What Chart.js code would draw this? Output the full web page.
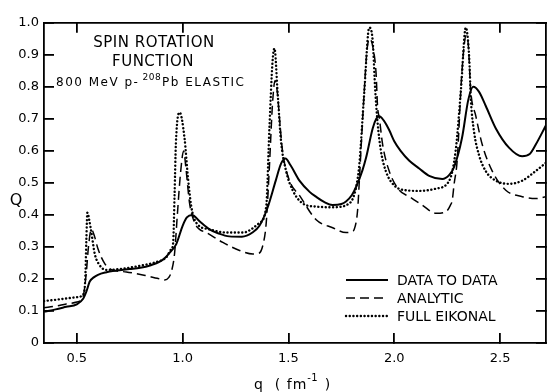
<!DOCTYPE html>
<html><head><meta charset="utf-8">
<script src="https://cdn.jsdelivr.net/npm/chart.js@4.4.1/dist/chart.umd.min.js"></script>
<style>html,body{margin:0;padding:0;background:#fff;}canvas{display:block;}</style>
</head><body>
<canvas id="c" width="547" height="392"></canvas>
<script>
// ---- data ----
const seriesLabels = ['DATA TO DATA', 'ANALYTIC', 'FULL EIKONAL'];
const titleLines = ['SPIN ROTATION', 'FUNCTION'];
const subtitleParts = ['800 MeV p-', '208', 'Pb ELASTIC'];
const xTitleParts = ['q  ( fm', '-1', ' )'];
const yTitle = 'Q';
const xTickValues = [0.5, 1.0, 1.5, 2.0, 2.5];
const yTickValues = [0, 0.1, 0.2, 0.3, 0.4, 0.5, 0.6, 0.7, 0.8, 0.9, 1.0];

const dataToDataQ = [0.345,0.40,0.45,0.50,0.53,0.545,0.561,0.58,0.60,0.64,0.67,0.75,0.80,0.85,0.89,0.92,0.94,0.97,1.00,1.02,1.045,1.08,1.127,1.17,1.22,1.28,1.33,1.363,1.40,1.44,1.465,1.486,1.51,1.552,1.60,1.63,1.67,1.708,1.75,1.772,1.80,1.82,1.85,1.867,1.898,1.915,1.929,1.95,1.976,2.0,2.03,2.07,2.118,2.165,2.227,2.26,2.283,2.32,2.35,2.373,2.40,2.432,2.48,2.542,2.604,2.64,2.668,2.717];
const dataToDataVal = [0.098,0.105,0.113,0.121,0.138,0.16,0.192,0.205,0.213,0.221,0.225,0.231,0.235,0.243,0.253,0.268,0.283,0.309,0.366,0.392,0.40,0.38,0.355,0.342,0.333,0.332,0.345,0.366,0.42,0.507,0.56,0.576,0.555,0.507,0.472,0.457,0.440,0.431,0.434,0.442,0.462,0.488,0.54,0.579,0.67,0.70,0.708,0.695,0.665,0.63,0.60,0.57,0.545,0.522,0.512,0.525,0.55,0.64,0.76,0.80,0.785,0.741,0.67,0.61,0.583,0.59,0.619,0.68];

const analyticQ = [0.345,0.40,0.45,0.50,0.53,0.545,0.555,0.569,0.585,0.60,0.632,0.664,0.70,0.734,0.829,0.88,0.915,0.935,0.947,0.962,0.975,0.99,1.005,1.015,1.033,1.057,1.08,1.112,1.19,1.269,1.332,1.36,1.379,1.395,1.41,1.425,1.437,1.448,1.458,1.472,1.505,1.552,1.631,1.709,1.772,1.80,1.811,1.827,1.835,1.855,1.872,1.885,1.90,1.914,1.921,1.93,1.945,1.976,2.024,2.071,2.132,2.197,2.244,2.265,2.274,2.283,2.297,2.32,2.34,2.35,2.361,2.385,2.416,2.463,2.527,2.605,2.668,2.717];
const analyticVal = [0.11,0.115,0.122,0.128,0.146,0.22,0.30,0.355,0.33,0.294,0.248,0.229,0.224,0.222,0.21,0.202,0.197,0.205,0.223,0.28,0.40,0.53,0.60,0.55,0.436,0.375,0.355,0.345,0.314,0.289,0.278,0.28,0.305,0.375,0.55,0.75,0.82,0.78,0.70,0.60,0.507,0.461,0.385,0.36,0.345,0.348,0.355,0.416,0.507,0.75,0.92,0.95,0.92,0.843,0.74,0.70,0.62,0.537,0.477,0.457,0.431,0.405,0.41,0.43,0.446,0.497,0.568,0.85,0.96,0.93,0.79,0.71,0.619,0.537,0.477,0.457,0.451,0.457];

const eikonalQ = [0.345,0.40,0.45,0.50,0.53,0.54,0.545,0.55,0.56,0.569,0.585,0.608,0.64,0.703,0.797,0.876,0.923,0.947,0.955,0.962,0.968,0.986,1.009,1.025,1.041,1.065,1.127,1.206,1.284,1.363,1.395,1.41,1.425,1.434,1.449,1.465,1.489,1.52,1.567,1.63,1.709,1.788,1.82,1.835,1.858,1.882,1.898,1.91,1.921,1.937,1.96,2.0,2.055,2.118,2.197,2.26,2.29,2.315,2.338,2.354,2.362,2.377,2.40,2.432,2.48,2.542,2.605,2.668,2.717];
const eikonalVal = [0.131,0.135,0.139,0.143,0.152,0.20,0.32,0.407,0.38,0.345,0.278,0.243,0.228,0.231,0.241,0.253,0.268,0.294,0.31,0.466,0.62,0.72,0.64,0.518,0.426,0.375,0.355,0.345,0.345,0.375,0.426,0.67,0.88,0.92,0.78,0.63,0.537,0.477,0.436,0.426,0.424,0.436,0.487,0.558,0.78,0.985,0.944,0.79,0.69,0.60,0.537,0.492,0.477,0.475,0.482,0.507,0.60,0.79,0.985,0.893,0.76,0.66,0.588,0.537,0.507,0.497,0.507,0.537,0.563];

const INK = '#000000';
const FONT = '"DejaVu Sans", "Liberation Sans", sans-serif';
const pts = (qs, vs) => qs.map((q, i) => ({x: q, y: vs[i]}));

// inward tick marks drawn by Chart.js itself (negative tick length), no grid on chart area
const inwardGrid = {display: true, drawOnChartArea: false, drawTicks: true, tickLength: -10, color: INK, lineWidth: 1.8};
const frameBorder = {display: true, color: INK, width: 1.8};

const decor = {
  id: 'decor',
  afterDraw(chart) {
    const ctx = chart.ctx, a = chart.chartArea;
    ctx.save();
    ctx.fillStyle = INK;
    ctx.textBaseline = 'alphabetic';
    ctx.textAlign = 'center';
    ctx.font = '15px ' + FONT;
    ctx.letterSpacing = '0.5px';
    ctx.fillText(titleLines[0], a.left + 110, a.top + 24);
    ctx.fillText(titleLines[1], a.left + 109, a.top + 43);
    ctx.textAlign = 'left';
    let x = a.left + 12, yb = a.top + 63;
    ctx.font = '12px ' + FONT; ctx.letterSpacing = '1.5px';
    ctx.fillText(subtitleParts[0], x, yb); x += ctx.measureText(subtitleParts[0]).width + 3;
    ctx.font = '9px ' + FONT; ctx.letterSpacing = '0.5px';
    ctx.fillText(subtitleParts[1], x, yb - 6); x += ctx.measureText(subtitleParts[1]).width + 1;
    ctx.font = '12px ' + FONT; ctx.letterSpacing = '1.5px';
    ctx.fillText(subtitleParts[2], x, yb);

    const ds = chart.data.datasets;
    const lx0 = 346, lx1 = 388, ly = [280, 298, 316];
    ctx.letterSpacing = '0px';
    ds.forEach((d, i) => {
      ctx.save();
      ctx.strokeStyle = d.borderColor; ctx.lineWidth = d.borderWidth;
      ctx.setLineDash(d.borderDash || []); ctx.lineCap = d.borderCapStyle || 'butt';
      ctx.beginPath(); ctx.moveTo(lx0, ly[i]); ctx.lineTo(lx1, ly[i]); ctx.stroke();
      ctx.restore();
      ctx.font = '14px ' + FONT; ctx.textBaseline = 'middle'; ctx.textAlign = 'left';
      ctx.fillText(d.label, 397, ly[i] + 1);
    });

    ctx.textBaseline = 'alphabetic';
    ctx.font = '16px ' + FONT; ctx.letterSpacing = '0px'; ctx.textAlign = 'center';
    ctx.fillText(yTitle, 16, 205);
    ctx.textAlign = 'left'; ctx.font = '14px ' + FONT; ctx.letterSpacing = '1px';
    let tx = 254, tb = 389;
    ctx.fillText(xTitleParts[0], tx, tb); tx += ctx.measureText(xTitleParts[0]).width;
    ctx.font = '10px ' + FONT; ctx.letterSpacing = '0.5px';
    ctx.fillText(xTitleParts[1], tx, tb - 8); tx += ctx.measureText(xTitleParts[1]).width + 1;
    ctx.font = '14px ' + FONT; ctx.letterSpacing = '1px';
    ctx.fillText(xTitleParts[2], tx, tb);
    ctx.restore();
  }
};

new Chart(document.getElementById('c'), {
  type: 'line',
  data: {
    datasets: [
      {label: seriesLabels[0], data: pts(dataToDataQ, dataToDataVal), borderColor: INK, borderWidth: 2, borderDash: [], fill: false, pointRadius: 0, cubicInterpolationMode: 'monotone'},
      {label: seriesLabels[1], data: pts(analyticQ, analyticVal), borderColor: INK, borderWidth: 1.5, borderDash: [9, 5], fill: false, pointRadius: 0, cubicInterpolationMode: 'monotone'},
      {label: seriesLabels[2], data: pts(eikonalQ, eikonalVal), borderColor: INK, borderWidth: 2.4, borderDash: [0.1, 3.6], borderCapStyle: 'round', fill: false, pointRadius: 0, cubicInterpolationMode: 'monotone'}
    ]
  },
  options: {
    responsive: false, animation: false, devicePixelRatio: 1,
    layout: {padding: {top: 0, right: 0, left: 0, bottom: 0}},
    plugins: {legend: {display: false}, tooltip: {enabled: false}, title: {display: false}},
    scales: {
      x: {
        type: 'linear', position: 'bottom', min: 0.345, max: 2.717,
        border: frameBorder, grid: inwardGrid,
        afterBuildTicks: s => { s.ticks = xTickValues.map(v => ({value: v})); },
        afterFit: s => { s.height = 49; },
        ticks: {padding: 18, color: INK, font: {family: FONT, size: 13}, maxRotation: 0, autoSkip: false,
                callback: v => Number(v).toFixed(1)}
      },
      xTop: {
        type: 'linear', position: 'top', min: 0.345, max: 2.717,
        border: frameBorder, grid: inwardGrid,
        afterBuildTicks: s => { s.ticks = xTickValues.map(v => ({value: v})); },
        afterFit: s => { s.height = 15; },
        ticks: {display: false}
      },
      y: {
        type: 'linear', position: 'left', min: 0, max: 1,
        border: frameBorder, grid: inwardGrid,
        afterBuildTicks: s => { s.ticks = yTickValues.map(v => ({value: v})); },
        afterFit: s => { s.width = 44; },
        ticks: {padding: 15, color: INK, font: {family: FONT, size: 13}, autoSkip: false,
                callback: v => v === 0 ? '0' : Number(v).toFixed(1)}
      },
      yRight: {
        type: 'linear', position: 'right', min: 0, max: 1,
        border: frameBorder, grid: inwardGrid,
        afterBuildTicks: s => { s.ticks = yTickValues.map(v => ({value: v})); },
        afterFit: s => { s.width = 1; },
        ticks: {display: false}
      }
    }
  },
  plugins: [decor]
});
</script>
</body></html>
